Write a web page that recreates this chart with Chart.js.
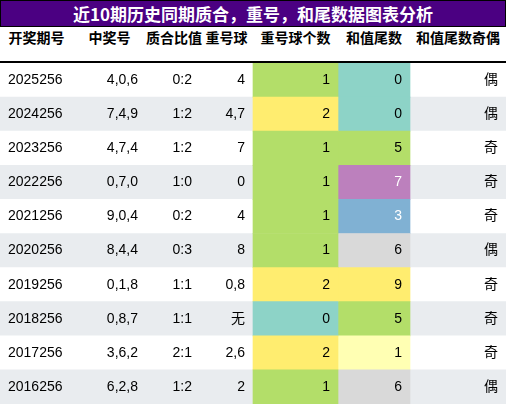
<!DOCTYPE html>
<html><head><meta charset="utf-8">
<script src="https://cdn.jsdelivr.net/npm/chart.js@4"></script>
<style>
body{margin:0;background:#fff;font-family:"Liberation Sans","Noto Sans CJK SC",sans-serif;}
#wrap{position:relative;width:506px;height:404px;overflow:hidden;}
#title{position:absolute;left:0;top:0;width:504px;height:25px;background:#4b0082;border:1px solid #000;color:#fff;
 font:bold 17px "Noto Sans CJK SC";text-align:center;line-height:25px;}
#head{position:absolute;left:0;top:27px;width:506px;height:34px;border-bottom:2px solid #000;}
#head span{position:absolute;top:0;line-height:36px;font:bold 14px "Noto Sans CJK SC";color:#000;text-align:center;white-space:nowrap;}
#body{position:absolute;left:0;top:63px;width:506px;height:341px;}
</style></head><body>
<div id="wrap">
<div id="title">近10期历史同期质合，重号，和尾数据图表分析</div>
<div id="head"></div>
<div id="body"><canvas id="c"></canvas></div>
</div>
<script>
var headers = ['开奖期号', '中奖号', '质合比值', '重号球', '重号球个数', '和值尾数', '和值尾数奇偶'];
var periods = ['2025256', '2024256', '2023256', '2022256', '2021256', '2020256', '2019256', '2018256', '2017256', '2016256'];
var numbers = ['4,0,6', '7,4,9', '4,7,4', '0,7,0', '9,0,4', '8,4,4', '0,1,8', '0,8,7', '3,6,2', '6,2,8'];
var ratios = ['0:2', '1:2', '1:2', '1:0', '0:2', '0:3', '1:1', '1:1', '2:1', '1:2'];
var repeats = ['4', '4,7', '7', '0', '4', '8', '0,8', '无', '2,6', '2'];
var repeatCounts = [1, 2, 1, 1, 1, 1, 2, 0, 2, 1];
var sumTails = [0, 0, 5, 7, 3, 6, 9, 5, 1, 6];
var parity = ['偶', '偶', '奇', '奇', '奇', '偶', '奇', '奇', '奇', '偶'];

// layout: column edges in px, alignment
var edges = [0, 73, 146, 200, 253, 338, 410, 506];
var aligns = ['left', 'right', 'right', 'right', 'right', 'right', 'right'];
var countColors = { 0: '#8dd3c7', 1: '#b3de69', 2: '#ffed6f' };
var tailColors = { 0: '#8dd3c7', 1: '#ffffb3', 3: '#80b1d3', 5: '#b3de69', 6: '#d9d9d9', 7: '#bc80bd', 9: '#ffed6f' };
var whiteText = { 3: true, 7: true };

var head = document.getElementById('head');
headers.forEach(function(h, i) {
  var s = document.createElement('span');
  s.textContent = h;
  s.style.left = edges[i] + 'px';
  s.style.width = (edges[i + 1] - edges[i]) + 'px';
  head.appendChild(s);
});

var cellText = function(r, c) {
  return [periods, numbers, ratios, repeats, repeatCounts, sumTails, parity][c][r] + '';
};

var textPlugin = {
  id: 'cellText',
  afterDatasetsDraw: function(chart) {
    var ctx = chart.ctx, x = chart.scales.x, y = chart.scales.y;
    ctx.save();
    ctx.font = '14px "Liberation Sans", "Noto Sans CJK SC"';
    ctx.textBaseline = 'middle';
    periods.forEach(function(p, r) {
      var py = y.getPixelForValue(r);
      for (var c = 0; c < headers.length; c++) {
        ctx.fillStyle = (c === 5 && whiteText[sumTails[r]]) ? '#fff' : '#000';
        if (aligns[c] === 'left') {
          ctx.textAlign = 'left';
          ctx.fillText(cellText(r, c), x.getPixelForValue(edges[c]) + 8, py);
        } else {
          ctx.textAlign = 'right';
          ctx.fillText(cellText(r, c), x.getPixelForValue(edges[c + 1]) - 8, py);
        }
      }
    });
    ctx.restore();
  }
};

new Chart(document.getElementById('c').getContext('2d'), {
  type: 'bar',
  data: {
    labels: periods,
    datasets: [
      { order: 3, data: periods.map(function(p) { return { y: p, x: [edges[0], edges[7]] }; }),
        backgroundColor: periods.map(function(p, i) { return i % 2 ? '#e9ecef' : '#ffffff'; }) },
      { order: 1, data: periods.map(function(p) { return { y: p, x: [edges[4], edges[5]] }; }),
        backgroundColor: repeatCounts.map(function(v) { return countColors[v]; }) },
      { order: 1, data: periods.map(function(p) { return { y: p, x: [edges[5], edges[6]] }; }),
        backgroundColor: sumTails.map(function(v) { return tailColors[v]; }) }
    ]
  },
  options: {
    indexAxis: 'y', responsive: true, maintainAspectRatio: false, animation: false,
    layout: { padding: 0 },
    datasets: { bar: { grouped: false, barPercentage: 1, categoryPercentage: 1, borderWidth: 0 } },
    plugins: { legend: { display: false }, tooltip: { enabled: false } },
    scales: {
      x: { type: 'linear', min: 0, max: 506, display: false },
      y: { type: 'category', offset: true, display: false }
    }
  },
  plugins: [textPlugin]
});
</script>
</body></html>
